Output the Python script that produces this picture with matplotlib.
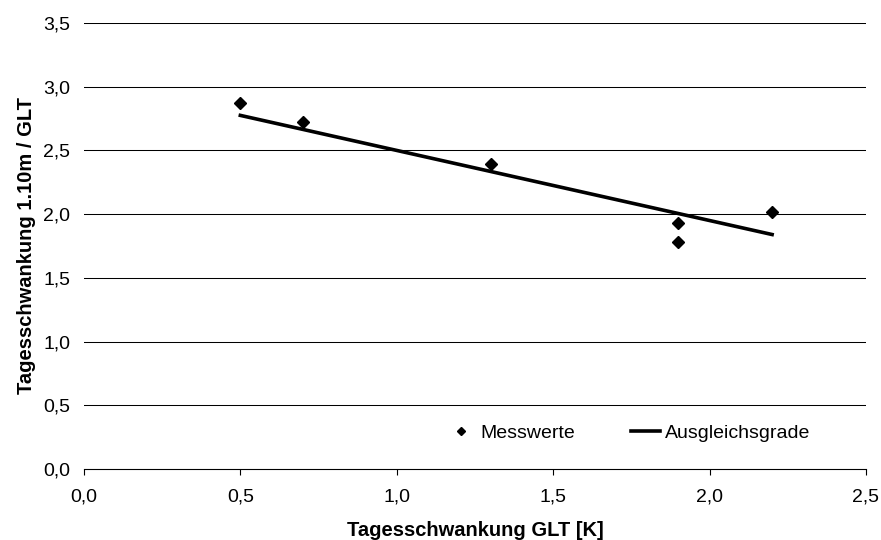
import numpy as np
import matplotlib.pyplot as plt
from matplotlib.ticker import FuncFormatter

plt.rcParams['font.family'] = ['Liberation Sans', 'DejaVu Sans']

# measured values
glt_x = [0.5, 0.7, 1.3, 1.9, 1.9, 2.2]
ratio_y = [2.87, 2.72, 2.39, 1.93, 1.78, 2.02]

# fitted line end points
fit_x = [0.5, 2.2]
fit_y = [2.775, 1.84]

x_ticks = [0.0, 0.5, 1.0, 1.5, 2.0, 2.5]
y_ticks = [0.0, 0.5, 1.0, 1.5, 2.0, 2.5, 3.0, 3.5]

fig = plt.figure(figsize=(8.81, 5.40), dpi=100)
ax = fig.add_axes([0.0953, 0.1315, 0.8876, 0.8259])

for yv in y_ticks[1:]:
    ax.axhline(yv, color='black', lw=0.75, zorder=1)

ax.plot(glt_x, ratio_y, linestyle='none', marker='D', ms=6, color='black',
        label='Messwerte', zorder=3)
ax.plot(fit_x, fit_y, color='black', lw=2.6, label='Ausgleichsgrade', zorder=2)

ax.set_xlim(0, 2.5)
ax.set_ylim(0, 3.5)
ax.set_xticks(x_ticks)
ax.set_yticks(y_ticks)
fmt = FuncFormatter(lambda v, p: f"{v:.1f}".replace('.', ','))
ax.xaxis.set_major_formatter(fmt)
ax.yaxis.set_major_formatter(fmt)

for s in ['top', 'right', 'left']:
    ax.spines[s].set_visible(False)
ax.spines['bottom'].set_linewidth(0.8)
ax.tick_params(axis='x', direction='out', length=4.3, width=0.8, labelsize=14,
               colors='black', pad=10)
ax.tick_params(axis='y', length=0, labelsize=14, colors='black', pad=10)

ax.set_xlabel('Tagesschwankung GLT [K]', fontsize=14.5, fontweight='bold', labelpad=11)
ax.set_ylabel('Tagesschwankung 1.10m / GLT', fontsize=14.5, fontweight='bold', labelpad=5)

ax.legend(loc='center', bbox_to_anchor=(0.696, 0.081), ncol=2, frameon=False,
          fontsize=14, handlelength=1.5, handletextpad=0.25, columnspacing=2.9,
          markerscale=0.7)

fig.savefig('out.png', dpi=100)
